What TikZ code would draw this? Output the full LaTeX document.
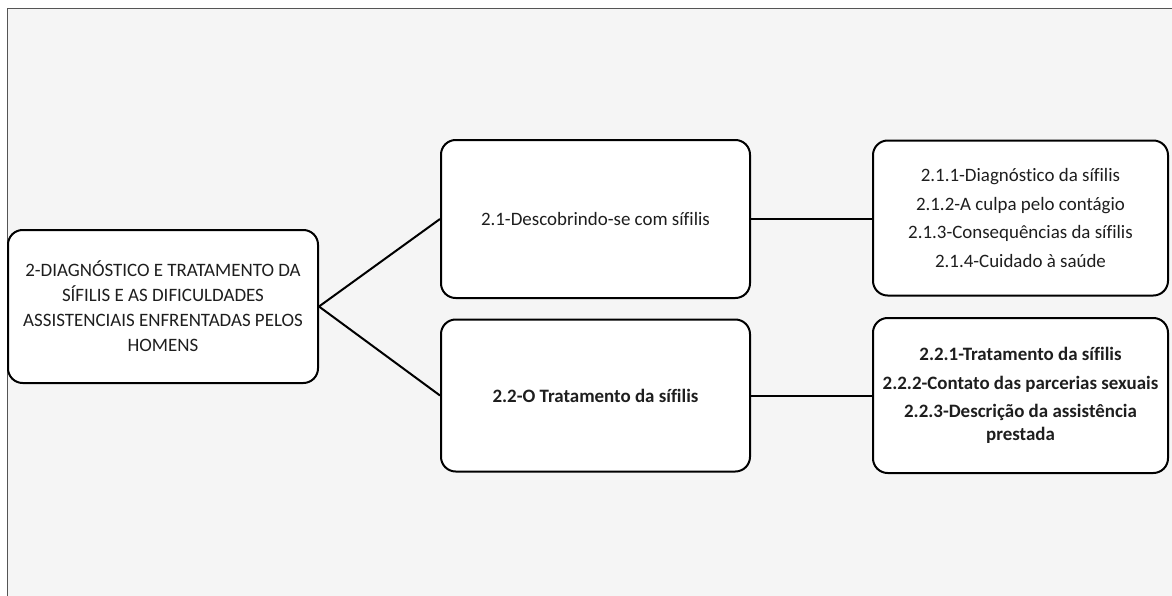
\documentclass[tikz,border=0pt]{standalone}
\usepackage{fontspec}
\setmainfont{Carlito}[Ligatures=NoCommon]
\definecolor{bg}{HTML}{F5F5F5}
\definecolor{frame}{HTML}{555555}
\definecolor{txt}{HTML}{1E1E1E}
\begin{document}
\begin{tikzpicture}[x=0.75pt,y=-0.75pt,
  box/.style={draw=black,line width=1.5pt,fill=white,rounded corners=11pt,
    minimum width=#1*0.75pt,align=center,text=txt,inner sep=0pt},
  box/.default=300,
  conn/.style={draw=black,line width=1.5pt},
  every node/.style={font=\fontsize{14.2}{21.4}\selectfont}]
\useasboundingbox (0,0) rectangle (1172,596);
\fill[white] (0,0) rectangle (1172,596);
\fill[bg] (8,9) rectangle (1172,596);
\draw[frame,line width=1.3pt] (7.5,596) -- (7.5,8.5) -- (1172,8.5);
% nodes
\node[box=310,minimum height=153*0.75pt,font=\fontsize{14.2}{18.75}\selectfont] (root) at (163,306.5)
  {2-DIAGNÓSTICO E TRATAMENTO DA\\SÍFILIS E AS DIFICULDADES\\ASSISTENCIAIS ENFRENTADAS PELOS\\HOMENS};
\node[box=309,minimum height=158*0.75pt] (a) at (595.5,219) {2.1-Descobrindo-se com sífilis};
\node[box=309,minimum height=152*0.75pt] (b) at (595.5,395.5) {\bfseries 2.2-O Tratamento da sífilis};
\node[box=295,minimum height=155*0.75pt] (c) at (1020.5,218)
  {2.1.1-Diagnóstico da sífilis\\2.1.2-A culpa pelo contágio\\2.1.3-Consequências da sífilis\\2.1.4-Cuidado à saúde};
\node[box=295,minimum height=155*0.75pt,font=\fontsize{14.2}{21.4}\selectfont\bfseries] (d) at (1020.5,395.5)
  {2.2.1-Tratamento da sífilis\\2.2.2-Contato das parcerias sexuais\\2.2.3-Descrição da assistência\\[-4pt]prestada};
% connectors
\draw[conn] (root.east) -- (a.west);
\draw[conn] (root.east) -- (b.west);
\draw[conn] (a.east) -- (a.east -| c.west);
\draw[conn] (b.east) -- (d.west);
\end{tikzpicture}
\end{document}
